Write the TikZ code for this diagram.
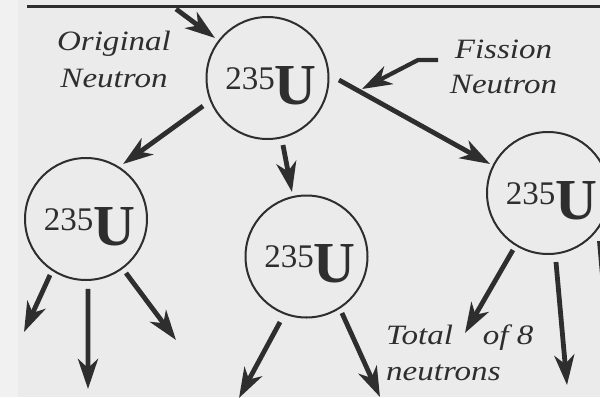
\documentclass[tikz,border=0pt]{standalone}
\usepackage{fontspec}
\setmainfont{Liberation Serif}
\newfontfamily\lblfont[FakeStretch=1.18]{Liberation Serif}
\usetikzlibrary{arrows.meta}
\definecolor{bg}{HTML}{EBEBEB}
\definecolor{bgl}{HTML}{F1F1F1}
\definecolor{ink}{HTML}{2E2E2E}
\newcommand\isoU{\hspace{7pt}{\fontsize{33}{33}\selectfont\raisebox{15pt}{235}}{\fontsize{58}{58}\selectfont\bfseries U}}
\tikzset{
  nuc/.style={circle, draw=ink, line width=2pt, minimum size=122pt, inner sep=0pt,
              text=ink, text height=52pt, text depth=0pt},
  arr/.style={draw=ink, line width=4.8pt, line cap=butt,
              -{Stealth[length=30pt, width=20pt, inset=9pt]}},
  lbl/.style={text=ink, inner sep=0pt, font=\lblfont\itshape\fontsize{28}{36}\selectfont}
}
\begin{document}
\begin{tikzpicture}[x=1pt, y=-1pt]
\useasboundingbox (0,0) rectangle (600,397);
\fill[bg] (0,0) rectangle (600,397);
\fill[bgl] (0,0) rectangle (18,397);
\begin{scope}
\clip (0,0) rectangle (600,397);
% top rule
\draw[ink, line width=3pt] (27,6.5) -- (600,6.5);
% nuclei
\node[nuc] (T) at (267.5,78) {\isoU};
\node[nuc] (L) at (86,219) {\isoU};
\node[nuc] (M) at (306.5,256.5) {\isoU};
\node[nuc] (R) at (548,193) {\isoU};
% free ends
\coordinate (on) at (176,9);
\coordinate (f0) at (438,60);
\coordinate (f1) at (418,60);
\coordinate (fe) at (362,89);
\coordinate (la) at (24,332);
\coordinate (lb) at (88,389);
\coordinate (lc) at (176,340);
\coordinate (ma) at (239,398);
\coordinate (mb) at (380,397);
\coordinate (ra) at (465,333);
\coordinate (rb) at (567,385);
\coordinate (rc) at (616,430);
% arrows
\draw[arr] (on) -- ([shift={(142.7:66pt)}]T.center);
\draw[arr] ([shift={(-156.5:70.3pt)}]T.center) -- ([shift={(56:66.3pt)}]L.center);
\draw[arr] ([shift={(-77:68.8pt)}]T.center) -- ([shift={(102.7:66.1pt)}]M.center);
\draw[arr] ([shift={(-1.6:71.5pt)}]T.center) -- ([shift={(153.4:64.8pt)}]R.center);
\draw[arr, line width=4.2pt, line join=round] (f0) -- (f1) -- (fe);
\draw[arr] ([shift={(-122.7:66.6pt)}]L.center) -- (la);
\draw[arr] ([shift={(-88.4:70pt)}]L.center) -- (lb);
\draw[arr] ([shift={(-53.5:67.2pt)}]L.center) -- (lc);
\draw[arr] ([shift={(-112:70.7pt)}]M.center) -- (ma);
\draw[arr] ([shift={(-57.9:66.7pt)}]M.center) -- (mb);
\draw[arr] ([shift={(-121.6:66.9pt)}]R.center) -- (ra);
\draw[arr] ([shift={(-83.4:69.5pt)}]R.center) -- (rb);
\draw[arr] ([shift={(-43:70.4pt)}]R.center) -- (rc);
% labels (base anchor = last line)
\node[lbl, align=center, anchor=base, font=\lblfont\itshape\fontsize{28}{37}\selectfont] (orig) at (114,87) {Original\\Neutron};
\node[lbl, align=center, anchor=base, font=\lblfont\itshape\fontsize{28}{35}\selectfont] (fiss) at (503.5,93) {Fission\\Neutron};
\node[lbl, align=left, anchor=base west] (tot) at (386,380) {Total\hspace{30pt}of 8\\neutrons};
\end{scope}
\end{tikzpicture}
\end{document}
